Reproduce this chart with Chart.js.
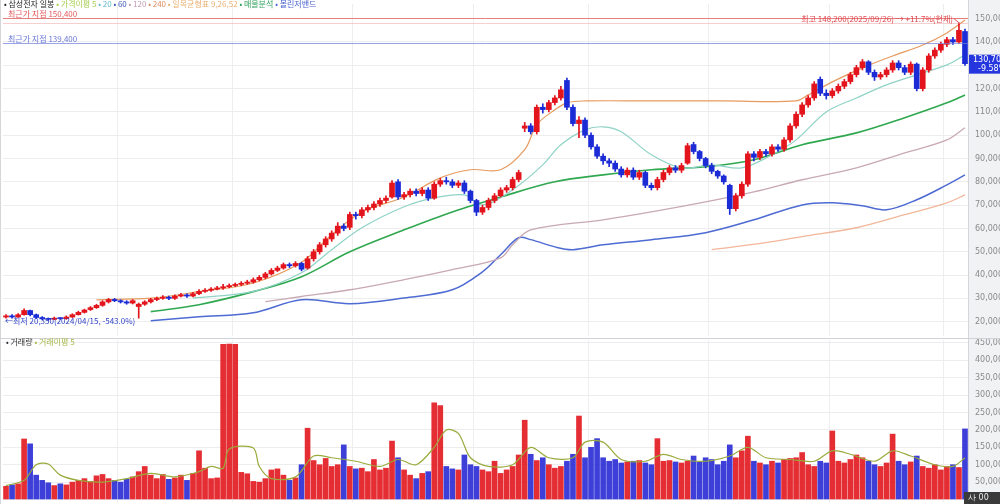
<!DOCTYPE html>
<html>
<head>
<meta charset="utf-8">
<script src="https://cdn.jsdelivr.net/npm/chart.js@4"></script>
<style>
  body { margin: 0; background: #fff; width: 1000px; height: 504px; overflow: hidden; position: relative; }
  #priceBox { position: absolute; left: 0; top: 0; width: 1000px; height: 338px; }
  #volBox { position: absolute; left: 0; top: 338px; width: 1000px; height: 166px; }
</style>
</head>
<body>
<div id="priceBox"><canvas id="priceChart"></canvas></div>
<div id="volBox"><canvas id="volChart"></canvas></div>
<script>
// daily candles, prices in thousand won
const opens = [22.0,22.5,22.0,23.0,24.8,23.0,21.8,21.2,21.0,21.5,
  21.3,22.0,23.0,24.0,25.2,26.0,27.0,28.5,29.5,29.0,
  28.5,28.0,26.5,27.5,28.5,29.5,30.0,30.5,30.0,31.0,
  31.5,31.0,32.0,33.0,33.5,34.0,34.5,35.0,35.5,36.0,
  36.5,37.0,38.0,39.0,40.5,42.0,43.0,44.5,44.0,45.0,
  43.0,47.0,50.0,53.0,55.5,58.0,61.0,60.5,66.0,65.5,
  68.0,69.0,70.5,72.0,73.5,80.0,73.5,74.5,76.0,75.0,
  76.5,73.0,79.0,80.5,80.0,78.5,79.5,76.0,72.0,67.0,
  69.0,72.0,74.0,76.5,77.5,81.0,103.0,104.0,101.5,112.0,
  111.0,114.0,116.0,123.5,112.0,105.0,106.5,100.0,95.0,91.0,
  89.0,88.0,85.5,83.0,85.0,82.0,84.0,78.5,77.5,81.0,
  84.0,86.0,85.0,88.0,96.0,93.0,90.0,87.0,84.5,82.5,
  78.5,68.5,74.0,79.0,92.0,90.5,93.0,92.0,95.0,94.0,
  98.0,104.0,109.0,113.0,116.0,124.0,118.0,117.0,119.0,121.0,
  123.0,126.0,129.0,131.5,127.0,125.0,126.0,128.0,131.0,129.0,
  127.0,130.5,120.0,128.0,134.0,136.5,139.0,141.0,140.0,144.5];
const closes = [22.5,22.0,23.0,24.8,23.0,21.8,21.2,21.0,21.5,21.3,
  22.0,23.0,24.0,25.0,26.0,27.0,28.5,29.5,29.0,28.5,
  28.0,29.0,27.5,28.5,29.5,30.0,30.5,30.0,31.0,31.5,
  31.0,32.0,33.0,33.5,34.0,34.5,35.0,35.5,36.0,36.5,
  37.0,38.0,39.0,40.5,42.0,43.0,44.5,44.0,45.0,42.5,
  47.0,50.0,53.0,55.5,58.0,61.0,60.0,66.0,65.5,68.0,
  69.0,70.5,72.0,73.0,79.5,73.5,74.5,76.0,75.0,76.5,
  73.0,79.0,80.5,80.0,78.5,79.5,76.0,72.0,67.0,69.0,
  72.0,74.0,76.5,77.5,81.0,84.0,104.0,101.5,112.0,111.0,
  114.0,116.0,119.5,112.0,105.0,106.5,100.0,95.0,91.0,89.0,
  88.0,85.5,83.0,85.0,82.0,84.0,78.5,77.5,81.0,84.0,
  86.0,85.0,87.0,95.5,93.0,90.0,87.0,84.5,82.5,80.0,
  68.5,74.0,79.0,92.0,90.5,93.0,92.0,95.0,94.0,98.0,
  104.0,109.0,113.0,116.0,122.0,118.0,117.0,119.0,121.0,123.0,
  126.0,129.0,131.5,127.0,125.0,126.0,128.0,131.0,129.0,127.0,
  130.5,120.0,128.0,134.0,136.5,139.0,141.0,140.0,145.0,130.7];
const highs = [23.0,23.0,23.5,25.5,25.0,23.3,22.2,21.6,22.0,21.8,
  22.5,23.4,24.5,25.4,26.5,27.5,29.0,30.0,30.0,29.4,
  29.0,29.5,28.0,29.0,30.0,30.6,31.2,31.0,31.5,32.2,
  32.0,32.6,33.8,34.2,34.6,35.2,36.0,36.2,36.6,37.2,
  37.8,38.8,39.8,41.2,42.8,43.8,45.2,45.2,45.8,45.5,
  48.0,51.0,54.0,56.5,59.0,62.5,62.0,67.0,67.0,69.0,
  70.0,71.5,73.0,74.0,80.5,81.0,75.5,77.0,77.0,77.5,
  77.5,80.0,81.5,82.0,81.0,80.5,80.5,76.5,72.5,70.0,
  73.0,75.0,77.5,78.5,82.0,85.0,105.5,105.0,113.0,113.5,
  115.0,117.0,121.0,124.5,113.0,108.0,107.5,101.0,96.0,92.0,
  90.0,89.0,86.5,86.0,86.0,85.0,84.5,79.5,82.0,85.0,
  87.0,87.0,88.0,96.5,97.0,93.5,90.5,88.0,85.0,83.0,
  79.0,75.0,80.0,93.0,93.0,94.0,94.0,96.0,96.0,99.0,
  105.0,110.0,114.0,117.0,123.0,125.0,119.5,120.0,122.0,124.0,
  127.0,130.0,132.5,132.0,128.0,127.0,129.0,132.0,132.0,130.0,
  131.5,131.0,129.0,135.0,137.5,140.0,142.0,142.0,148.2,145.5];
const lows = [21.5,21.5,21.8,22.8,22.5,21.3,20.8,20.5,20.8,20.9,
  21.0,21.8,22.8,23.7,24.8,25.7,26.6,28.0,28.6,28.0,
  27.5,27.6,21.5,27.0,28.0,29.0,29.6,29.4,29.6,30.6,
  30.4,30.6,31.6,32.6,33.0,33.6,33.8,34.5,35.0,35.4,
  36.0,36.5,37.5,38.4,40.0,41.5,42.5,43.2,43.4,41.8,
  42.5,46.0,49.0,52.0,54.5,57.0,59.0,59.5,64.0,64.5,
  67.0,68.0,69.5,71.0,73.0,72.5,72.5,73.5,74.0,74.0,
  72.0,72.5,78.0,79.0,77.5,77.5,75.0,71.0,65.5,66.0,
  68.0,71.0,73.5,75.5,76.5,80.0,101.5,100.5,100.5,109.5,
  110.0,113.0,115.0,111.0,104.0,99.0,99.0,94.0,90.0,87.5,
  86.5,84.5,82.0,82.0,81.0,81.0,77.5,76.5,76.5,80.0,
  83.0,84.0,84.0,87.5,92.0,89.0,86.0,83.5,81.5,79.0,
  66.0,67.5,73.0,78.0,89.0,89.5,91.0,91.0,93.0,93.0,
  97.0,103.0,108.0,112.0,115.0,117.0,115.5,116.0,118.0,120.0,
  122.0,125.0,128.0,126.0,123.5,124.0,125.0,127.0,128.0,126.0,
  126.0,119.0,119.0,127.0,133.0,135.5,138.0,139.0,139.5,130.0];
// volume in thousand shares
const volumes = [38,42,45,174,160,70,55,48,40,45,
  42,50,55,60,52,68,72,60,55,50,
  58,65,80,95,70,60,72,58,62,70,
  55,75,140,90,60,62,446,447,446,78,
  74,52,50,60,85,88,70,55,62,100,
  205,112,100,118,95,100,157,95,88,90,
  80,115,85,90,168,120,85,70,60,75,
  80,278,270,95,88,85,128,100,95,85,
  80,110,75,85,95,128,228,130,112,120,
  100,90,95,110,130,240,120,150,175,120,
  110,115,105,108,110,112,105,100,175,110,
  112,108,105,110,125,108,120,115,100,110,
  157,120,140,182,110,105,100,110,105,115,
  118,120,135,100,95,110,105,197,110,105,
  115,128,120,110,100,95,105,188,110,100,
  108,125,95,90,100,85,95,100,92,203];

// indicator lines, read at a few candle positions
const orangeIdx = [15,24,32,41,49,54,59,66,72,77,82,86,88,91,93,96,107,119,131,133,137,142,147,152,156,159];
const orangeVal = [29.4,30.1,32.9,36.6,45.5,57.3,67.1,73.5,81.7,85.2,85.2,93.8,104.5,110.9,113.9,114.7,114.7,114.7,114.7,117.3,122.9,128.9,134.0,138.7,143.9,149.4];
const tealIdx = [31,41,49,54,59,66,71,76,79,84,89,92,96,99,102,107,112,117,122,127,131,136,141,146,151,156,159];
const tealVal = [30.1,33.0,41.0,50.9,60.3,69.3,73.1,74.4,70.1,76.6,87.3,95.9,102.3,103.6,101.5,91.6,86.0,87.3,86.0,91.6,98.0,110.0,116.0,121.6,125.9,130.2,134.5];
const greenIdx = [24,32,41,49,57,66,74,82,91,99,107,116,124,132,141,149,156,159];
const greenVal = [24.3,27.3,32.9,39.3,50.0,59.4,67.1,73.5,80.0,83.0,85.2,86.5,89.5,95.9,101.0,107.5,113.9,117.3];
const mauveIdx = [43,49,57,66,74,82,84,87,99,107,116,124,132,141,149,156,159];
const mauveVal = [28.6,30.8,33.7,38.0,42.3,47.4,53.0,59.4,63.7,67.1,71.4,75.7,80.9,86.0,92.4,98.0,103.2];
const blueIdx = [24,32,41,49,57,66,74,79,82,85,87,91,94,99,107,116,124,132,137,142,146,151,156,159];
const blueVal = [20.4,22.1,23.8,29.4,27.7,30.2,33.7,41.4,48.7,56.0,55.2,52.1,50.9,53.0,55.2,58.2,63.7,70.1,71.0,69.7,68.0,72.3,78.7,83.0];
const salmonIdx = [117,126,132,141,149,156,159];
const salmonVal = [50.9,53.9,56.5,60.3,65.9,71.0,74.4];
const volMaIdx = [0,3,5,7,9,12,16,20,24,28,32,34,36,37,41,42,44,48,51,54,58,62,65,68,71,73,75,77,80,84,87,90,94,96,99,102,106,109,112,116,120,123,126,130,134,137,140,144,147,150,154,157,159];
const volMaVal = [40,55,100,102,70,55,50,60,75,65,80,95,90,145,148,95,60,65,125,120,110,95,115,100,150,200,190,120,95,100,150,120,120,165,165,115,110,130,115,110,125,150,120,115,110,140,130,110,140,125,100,95,120];

const gridIdx = [19,38,58,78,97,117,137,156];
const upColor = "#e3141c";
const downColor = "#1b2bd6";
const labels = closes.map((_, i) => i);
const isUp = i => closes[i] >= opens[i];
const fontKr = '"Noto Sans CJK KR", "Noto Sans", sans-serif';

function sparse(idx, vals){
  const arr = new Array(labels.length).fill(null);
  idx.forEach((k, j) => arr[k] = vals[j]);
  return arr;
}
function lineSet(idx, vals, color, width){
  return { type:"line", data:sparse(idx, vals), borderColor:color, borderWidth:width, pointRadius:0, spanGaps:true, tension:0.35, order:3 };
}
const won = v => Math.round(v*1000).toLocaleString("en-US");

function axisBackground(chart){
  const { ctx, chartArea, width, height } = chart;
  ctx.save();
  ctx.fillStyle = "#f1f2f4";
  ctx.fillRect(chartArea.right, 0, width - chartArea.right, height);
  ctx.strokeStyle = "#d4d6da";
  ctx.beginPath(); ctx.moveTo(chartArea.right + 0.5, 0); ctx.lineTo(chartArea.right + 0.5, height); ctx.stroke();
  ctx.beginPath(); ctx.moveTo(0.5, 0); ctx.lineTo(0.5, height); ctx.stroke();
  ctx.restore();
}

function drawParts(ctx, parts, x, y){
  parts.forEach(([txt, color]) => {
    ctx.fillStyle = color;
    ctx.fillText(txt, x, y);
    x += ctx.measureText(txt).width;
  });
}

// Price decorations
const priceDecor = {
  id:"priceDecor",
  beforeDraw: axisBackground,
  afterDatasetsDraw(chart){
    const { ctx, chartArea, scales } = chart;
    const y = scales.y, x = scales.x;
    const hLine = (val, color) => {
      const py = Math.round(y.getPixelForValue(val)) + 0.5;
      ctx.strokeStyle = color; ctx.lineWidth = 1;
      ctx.beginPath(); ctx.moveTo(chartArea.left, py); ctx.lineTo(chartArea.right, py); ctx.stroke();
      return py;
    };
    ctx.save();
    const pRed = hLine(150.4, "rgba(226,90,90,0.75)");
    hLine(148.2, "rgba(236,150,150,0.45)");
    const pBlue = hLine(139.4, "rgba(110,125,220,0.7)");

    ctx.font = "8px " + fontKr;
    ctx.textBaseline = "alphabetic";
    ctx.fillStyle = "#e4585a";
    ctx.fillText("최근가 지점 150,400", 8, pRed - 2);
    ctx.fillStyle = "#6a78d8";
    ctx.fillText("최근가 지점 139,400", 8, pBlue - 2);

    // header legend
    drawParts(ctx, [
      ["• 삼성전자 일봉 ", "#222"], ["• 가격이평 5 ", "#a8cf52"], ["• 20 ", "#5fb8c8"],
      ["• 60 ", "#3a55b8"], ["• 120 ", "#c09ab0"], ["• 240 ", "#d98c5c"],
      ["• 일목균형표 9,26,52 ", "#e9b070"], ["• 매물분석 ", "#2f9f5a"], ["• 볼린저밴드", "#4a63cf"]
    ], 4, 7);

    // high marker on the right
    const hx = x.getPixelForValue(158);
    const hy = y.getPixelForValue(148.2);
    ctx.textBaseline = "middle";
    ctx.fillStyle = "#e0474b";
    ctx.textAlign = "right";
    ctx.fillText("최고 148,200(2025/09/26) → +11.7%(현재)", hx - 6, pRed);
    ctx.strokeStyle = "#e0474b";
    ctx.beginPath(); ctx.moveTo(hx - 5, pRed); ctx.lineTo(hx, hy); ctx.stroke();

    // low marker bottom left
    ctx.textAlign = "left";
    const ly = y.getPixelForValue(20.35);
    drawParts(ctx, [["←최저 ", "#3344c8"], ["20,350(2024/04/15, ", "#3344c8"], ["-543.0%)", "#3344c8"]], 5, ly);

    // current price tag
    const cy = y.getPixelForValue(closes[closes.length - 1]);
    ctx.fillStyle = "#2536de";
    ctx.fillRect(chartArea.right + 1, cy - 9, 40, 19);
    ctx.fillStyle = "#fff";
    ctx.font = "8px DejaVu Sans";
    ctx.fillText(won(closes[closes.length - 1]), chartArea.right + 5, cy - 4);
    ctx.fillText("-9.58%", chartArea.right + 10, cy + 5);
    ctx.restore();
  }
};

const volDecor = {
  id:"volDecor",
  beforeDraw: axisBackground,
  afterDatasetsDraw(chart){
    const { ctx, width, height } = chart;
    ctx.save();
    ctx.strokeStyle = "#cfd2d6";
    ctx.beginPath(); ctx.moveTo(0, 0.5); ctx.lineTo(width, 0.5); ctx.stroke();
    ctx.font = "8px " + fontKr;
    ctx.textBaseline = "middle";
    drawParts(ctx, [["• 거래량 ", "#333"], ["• 거래이평 5", "#a6b94a"]], 6, 4);
    ctx.fillStyle = "#3a3a3a";
    ctx.fillRect(width - 36, height - 12, 36, 12);
    ctx.fillStyle = "#eee";
    ctx.font = "8px DejaVu Sans";
    ctx.fillText("사 00", width - 32, height - 6);
    ctx.restore();
  }
};

const xScale = {
  display:true,
  ticks:{ display:false },
  border:{ display:false },
  grid:{ drawTicks:false, color: c => gridIdx.includes(c.index) ? "#eeeeee" : "rgba(0,0,0,0)" },
  afterFit: s => { s.height = 0; s.paddingLeft = 0; s.paddingRight = 0; }
};
const fitRight = s => { s.width = 32; s.paddingTop = 0; s.paddingBottom = 0; };

// Price chart
new Chart(document.getElementById("priceChart"), {
  type:"bar",
  data:{
    labels,
    datasets:[
      { data:highs.map((h, i) => [lows[i], h]), backgroundColor:labels.map(i => isUp(i) ? upColor : downColor), barThickness:1, grouped:false, order:1 },
      { data:opens.map((o, i) => [o, closes[i]]), backgroundColor:labels.map(i => isUp(i) ? upColor : downColor), barThickness:5, minBarLength:1, grouped:false, order:0 },
      lineSet(orangeIdx, orangeVal, "#e79a5e", 1.2),
      lineSet(tealIdx, tealVal, "#8fd3c6", 1.2),
      lineSet(greenIdx, greenVal, "#2fa84f", 1.6),
      lineSet(mauveIdx, mauveVal, "#c8a9b4", 1.3),
      lineSet(blueIdx, blueVal, "#4d6bd3", 1.5),
      lineSet(salmonIdx, salmonVal, "#f2b79a", 1.3)
    ]
  },
  options:{
    responsive:true, maintainAspectRatio:false, animation:false,
    layout:{ padding:{ left:3, top:4, bottom:2, right:0 } },
    plugins:{ legend:{ display:false }, tooltip:{ enabled:false } },
    scales:{
      x: xScale,
      y:{
        position:"right", min:13.86, max:156.3,
        ticks:{ stepSize:10, includeBounds:false, autoSkip:false, padding:7, color:"#8a8a8a", font:{ size:8, family:"DejaVu Sans" }, callback: v => won(v) },
        grid:{ color:"#ededed", drawTicks:false },
        border:{ display:false },
        afterFit: fitRight
      }
    }
  },
  plugins:[priceDecor]
});

// Volume chart
new Chart(document.getElementById("volChart"), {
  type:"bar",
  data:{
    labels,
    datasets:[
      { data:volumes, backgroundColor:labels.map(i => isUp(i) ? "rgba(226,22,30,0.9)" : "rgba(40,42,212,0.9)"), barThickness:5, grouped:false, order:1 },
      { type:"line", data:sparse(volMaIdx, volMaVal), borderColor:"#9aaa3c", borderWidth:1.2, pointRadius:0, spanGaps:true, tension:0.3, order:0 }
    ]
  },
  options:{
    responsive:true, maintainAspectRatio:false, animation:false,
    layout:{ padding:{ left:3, top:2, bottom:2, right:0 } },
    plugins:{ legend:{ display:false }, tooltip:{ enabled:false } },
    scales:{
      x: xScale,
      y:{
        position:"right", min:-7.2, max:458.6,
        ticks:{ stepSize:50, includeBounds:false, autoSkip:false, padding:7, color:"#8a8a8a", font:{ size:8, family:"DejaVu Sans" }, callback: v => v <= 0 ? "" : won(v) },
        grid:{ color:"#ededed", drawTicks:false },
        border:{ display:false },
        afterFit: fitRight
      }
    }
  },
  plugins:[volDecor]
});
</script>
</body>
</html>
